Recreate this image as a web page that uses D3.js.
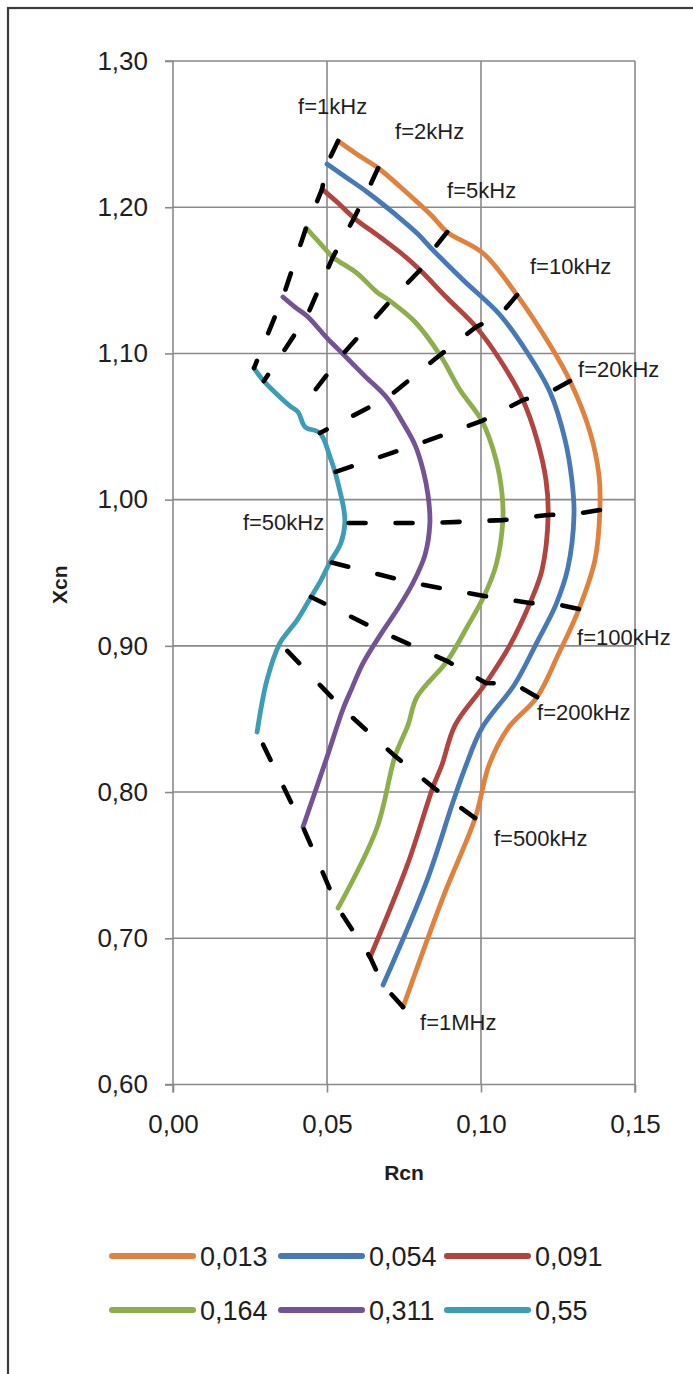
<!DOCTYPE html>
<html>
<head>
<meta charset="utf-8">
<script src="https://cdn.jsdelivr.net/npm/d3@7"></script>
<style>
  html, body { margin: 0; padding: 0; background: #fff; }
  svg { display: block; }
  text { font-family: "Liberation Sans", Arial, sans-serif; fill: #1e1e1e; }
</style>
</head>
<body>
<svg id="chart" width="693" height="1374"></svg>
<script>
// Sampled frequencies (kHz) shared by all series
const freqKHz = [1, 1.5, 2, 3, 4, 5, 7, 10, 15, 20, 30, 40, 50, 70, 100, 150, 200, 300, 400, 500, 700, 1000];

// Series legend labels
const seriesLabels = ["0,013", "0,054", "0,091", "0,164", "0,311", "0,55"];
const seriesColors = ["#E0823D", "#4679B6", "#B1443F", "#8DAE4B", "#735395", "#3E9DB6"];

// Normalised resistance Rcn and reactance Xcn for each series
const r013 = [0.0536, 0.0601, 0.0666, 0.0753, 0.0841, 0.0890, 0.1006, 0.1117, 0.1224, 0.1289, 0.1354, 0.1383, 0.1386, 0.1370, 0.1318, 0.1250, 0.1182, 0.1088, 0.1026, 0.0981, 0.0877, 0.0747];
const x013 = [1.2453, 1.2357, 1.2268, 1.2111, 1.1940, 1.1830, 1.1687, 1.1399, 1.1057, 1.0811, 1.0462, 1.0168, 0.9929, 0.9587, 0.9252, 0.8937, 0.8650, 0.8438, 0.8185, 0.7822, 0.7282, 0.6529];

const r054 = [0.0500, 0.0565, 0.0630, 0.0724, 0.0795, 0.0844, 0.0942, 0.1062, 0.1149, 0.1224, 0.1273, 0.1295, 0.1302, 0.1282, 0.1244, 0.1182, 0.1110, 0.1003, 0.0948, 0.0909, 0.0825, 0.0682];
const x054 = [1.2295, 1.2200, 1.2104, 1.1947, 1.1817, 1.1707, 1.1502, 1.1263, 1.1010, 1.0736, 1.0408, 1.0134, 0.9901, 0.9532, 0.9286, 0.9026, 0.8739, 0.8438, 0.8164, 0.7932, 0.7398, 0.6680];

const r091 = [0.0484, 0.0536, 0.0588, 0.0672, 0.0744, 0.0802, 0.0890, 0.0984, 0.1062, 0.1136, 0.1182, 0.1211, 0.1218, 0.1198, 0.1159, 0.1094, 0.1016, 0.0916, 0.0873, 0.0844, 0.0763, 0.0640];
const x091 = [1.2124, 1.2029, 1.1926, 1.1796, 1.1680, 1.1570, 1.1379, 1.1181, 1.0955, 1.0681, 1.0408, 1.0134, 0.9895, 0.9518, 0.9293, 0.9005, 0.8746, 0.8458, 0.8185, 0.8034, 0.7514, 0.6871];

const r164 = [0.0432, 0.0477, 0.0519, 0.0597, 0.0662, 0.0705, 0.0786, 0.0867, 0.0932, 0.1003, 0.1049, 0.1068, 0.1071, 0.1049, 0.1010, 0.0955, 0.0890, 0.0792, 0.0763, 0.0721, 0.0662, 0.0536];
const x164 = [1.1858, 1.1755, 1.1659, 1.1550, 1.1420, 1.1358, 1.1215, 1.0989, 1.0750, 1.0538, 1.0271, 1.0045, 0.9860, 0.9553, 0.9341, 0.9129, 0.8896, 0.8650, 0.8458, 0.8246, 0.7754, 0.7207];

const r311 = [0.0357, 0.0396, 0.0435, 0.0500, 0.0529, 0.0552, 0.0623, 0.0695, 0.0747, 0.0786, 0.0812, 0.0828, 0.0834, 0.0818, 0.0779, 0.0727, 0.0679, 0.0617, 0.0581, 0.0552, 0.0500, 0.0422];
const x311 = [1.1386, 1.1317, 1.1256, 1.1105, 1.1044, 1.0996, 1.0845, 1.0695, 1.0524, 1.0373, 1.0202, 1.0031, 0.9840, 0.9621, 0.9430, 0.9245, 0.9094, 0.8882, 0.8711, 0.8568, 0.8239, 0.7761];

const r55 = [0.0263, 0.0279, 0.0295, 0.0347, 0.0380, 0.0406, 0.0429, 0.0477, 0.0510, 0.0526, 0.0545, 0.0555, 0.0558, 0.0545, 0.0510, 0.0477, 0.0448, 0.0403, 0.0370, 0.0347, 0.0305, 0.0273];
const x55 = [1.0900, 1.0852, 1.0811, 1.0702, 1.0640, 1.0599, 1.0497, 1.0456, 1.0291, 1.0189, 1.0031, 0.9929, 0.9840, 0.9703, 0.9573, 0.9436, 0.9334, 0.9176, 0.9088, 0.9019, 0.8766, 0.8410];

// Frequencies joined by the dashed iso-frequency lines, with their annotations
const markedFreqs = [1, 2, 5, 10, 20, 50, 100, 200, 500, 1000];
const freqText = ["f=1kHz", "f=2kHz", "f=5kHz", "f=10kHz", "f=20kHz", "f=50kHz", "f=100kHz", "f=200kHz", "f=500kHz", "f=1MHz"];
// Annotation anchors (left/baseline) in data units
const freqTextR = [0.0406, 0.0721, 0.0890, 0.1159, 0.1315, 0.0227, 0.1312, 0.1182, 0.1042, 0.0802];
const freqTextX = [1.2637, 1.2466, 1.2063, 1.1543, 1.0839, 0.9792, 0.9005, 0.8492, 0.7631, 0.6372];

// Axis ticks
const xTicks = [0, 0.05, 0.10, 0.15];
const yTicks = [0.60, 0.70, 0.80, 0.90, 1.00, 1.10, 1.20, 1.30];

const seriesR = [r013, r054, r091, r164, r311, r55];
const seriesX = [x013, x054, x091, x164, x311, x55];
const series = seriesLabels.map((name, i) => ({
  name,
  color: seriesColors[i],
  points: freqKHz.map((f, k) => ({ f, r: seriesR[i][k], x: seriesX[i][k] }))
}));

const svg = d3.select("#chart");
const W = 693, H = 1374;

const sx = d3.scaleLinear().domain([0, 0.15]).range([173, 635]);
const sy = d3.scaleLinear().domain([0.6, 1.3]).range([1084.5, 61]);

const locale = d3.formatLocale({ decimal: ",", thousands: " ", grouping: [3], currency: ["", ""] });
const fmt2 = locale.format(".2f");

// Outer chart frame
svg.append("rect")
  .attr("x", 8).attr("y", 8)
  .attr("width", W + 20).attr("height", H + 20)
  .attr("fill", "none").attr("stroke", "#3a3a3a").attr("stroke-width", 2.2);

const grid = svg.append("g").attr("stroke", "#8a8a8a").attr("stroke-width", 1.6);
grid.selectAll("line.h").data(yTicks.slice(1)).join("line")
  .attr("x1", sx(0)).attr("x2", sx(0.15))
  .attr("y1", d => sy(d)).attr("y2", d => sy(d));
grid.selectAll("line.v").data(xTicks.slice(1)).join("line")
  .attr("y1", sy(0.6)).attr("y2", sy(1.3))
  .attr("x1", d => sx(d)).attr("x2", d => sx(d));

// Axes
const yAxis = d3.axisLeft(sy).tickValues(yTicks).tickSize(8).tickPadding(17).tickFormat(fmt2);
const xAxis = d3.axisBottom(sx).tickValues(xTicks).tickSize(8).tickPadding(22).tickFormat(fmt2);

function styleAxis(g) {
  g.select(".domain").attr("stroke", "#8a8a8a").attr("stroke-width", 1.6);
  g.selectAll(".tick line").attr("stroke", "#8a8a8a").attr("stroke-width", 1.6);
  g.selectAll(".tick text").attr("font-size", 26).attr("fill", "#1e1e1e")
    .attr("font-family", "'Liberation Sans', Arial, sans-serif");
}
svg.append("g").attr("transform", `translate(${sx(0)},0)`).call(yAxis).call(styleAxis)
  .call(g => g.select(".domain").attr("d", `M-8,${sy(0.6)}H0V${sy(1.3)}H-8`));
svg.append("g").attr("transform", `translate(0,${sy(0.6)})`).call(xAxis).call(styleAxis)
  .call(g => g.select(".domain").attr("d", `M${sx(0)},8V0H${sx(0.15)}V8`));

// Axis titles
svg.append("text")
  .attr("transform", `translate(67,${(sy(0.6) + sy(1.3)) / 2 + 12}) rotate(-90)`)
  .attr("text-anchor", "middle").attr("font-weight", "bold").attr("font-size", 21)
  .text("Xcn");
svg.append("text")
  .attr("x", (sx(0) + sx(0.15)) / 2).attr("y", 1180)
  .attr("text-anchor", "middle").attr("font-weight", "bold").attr("font-size", 21)
  .text("Rcn");

// Series curves
const curveLine = d3.line()
  .x(d => sx(d.r)).y(d => sy(d.x))
  .curve(d3.curveCatmullRom.alpha(0.5));

svg.append("g").selectAll("path.series").data(series).join("path")
  .attr("class", "series")
  .attr("d", d => curveLine(d.points))
  .attr("fill", "none")
  .attr("stroke", d => d.color)
  .attr("stroke-width", 4.8)
  .attr("stroke-linejoin", "round")
  .attr("stroke-linecap", "round");

// Iso-frequency dashed lines joining the same frequency on every series
const isoLines = markedFreqs.map(f => series.map(s => s.points.find(p => p.f === f)));
const straight = d3.line().x(d => sx(d.r)).y(d => sy(d.x));
svg.append("g").selectAll("path.iso").data(isoLines).join("path")
  .attr("class", "iso")
  .attr("d", straight)
  .attr("fill", "none")
  .attr("stroke", "#000")
  .attr("stroke-width", 4.6)
  .attr("stroke-linecap", "round")
  .attr("stroke-dasharray", "17,30");

// Frequency annotations
svg.append("g").selectAll("text.freq").data(freqText).join("text")
  .attr("class", "freq")
  .attr("x", (d, i) => sx(freqTextR[i]))
  .attr("y", (d, i) => sy(freqTextX[i]))
  .attr("font-size", 22)
  .text(d => d);

// Legend
const legend = svg.append("g");
const legendCols = [112, 281, 447];
const legendRows = [1256, 1310];
series.forEach((s, i) => {
  const cx = legendCols[i % 3], cy = legendRows[Math.floor(i / 3)];
  legend.append("line")
    .attr("x1", cx).attr("x2", cx + 81)
    .attr("y1", cy).attr("y2", cy)
    .attr("stroke", s.color).attr("stroke-width", 6).attr("stroke-linecap", "round");
  legend.append("text")
    .attr("x", cx + 88).attr("y", cy + 10)
    .attr("font-size", 27)
    .text(s.name);
});
</script>
</body>
</html>
